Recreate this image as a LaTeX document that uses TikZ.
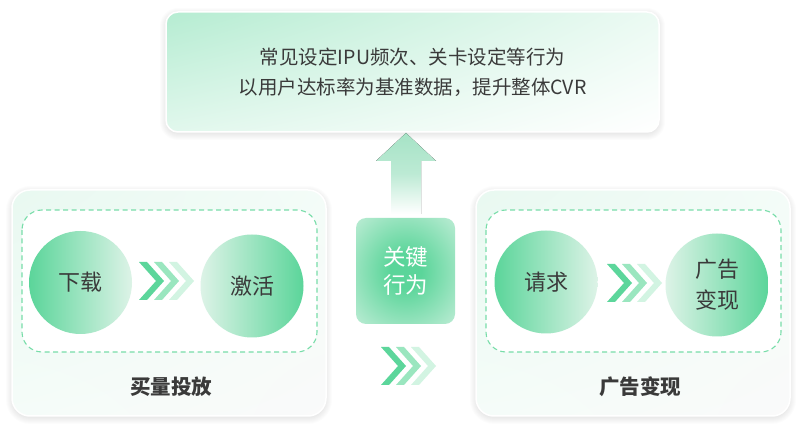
\documentclass[tikz,border=0pt]{standalone}
\usepackage{fontspec}
\setmainfont{Noto Sans CJK SC}
\usetikzlibrary{shadings}
\definecolor{txt}{HTML}{3A3A3A}
\definecolor{gdark}{HTML}{5BD59A}
\definecolor{glight}{HTML}{DDF3E7}
\definecolor{dashc}{HTML}{78DDA9}
\definecolor{chA}{HTML}{5CD69B}
\definecolor{chB}{HTML}{9AE6BF}
\definecolor{chC}{HTML}{D2F4E2}
\definecolor{arrowc}{HTML}{A6E3C6}
\definecolor{keyout}{HTML}{C4EED9}
\definecolor{keycorner}{HTML}{D8F5E6}
\pgfdeclareradialshading{keyshade}{\pgfpoint{0bp}{0bp}}{color(0bp)=(gdark); color(8bp)=(gdark); color(38bp)=(keyout); color(52bp)=(keycorner); color(75bp)=(keycorner)}
\newcommand\myshadow[5]{\foreach \s in {0,...,6}{\pgfmathsetmacro\rr{#5+\s}\fill[black,opacity=0.010,rounded corners=\rr pt] ({#1-\s},{#2-\s+2}) rectangle ({#3+\s},{#4+\s+2});}}
\tikzset{
  x=1pt,y=-1pt,
  panel/.style={draw=white,line width=1.5pt,rounded corners=18pt,
    upper left=white!88!gdark!80!glight, upper right=white!93!gdark,
    lower left=white!94!gdark, lower right=white!96!gray},
  dashbox/.style={draw=dashc,line width=1.1pt,dash pattern=on 5pt off 3.5pt,rounded corners=20pt,fill=white},
  ball/.style={circle,minimum size=103pt,inner sep=0pt,text=txt,font=\fontsize{22}{31}\selectfont,align=center},
  balll/.style={ball,left color=gdark,right color=glight},
  ballr/.style={ball,left color=glight,right color=gdark},
  caption/.style={text=txt,font=\fontsize{20.5}{24}\selectfont\bfseries},
  chev/.pic={
    \fill[chC] (30,-19) -- (38,-19) -- (55,0) -- (38,19) -- (30,19) -- (47,0) -- cycle;
    \fill[chB] (15,-19) -- (23,-19) -- (40,0) -- (23,19) -- (15,19) -- (32,0) -- cycle;
    \fill[chA] (0,-19) -- (8,-19) -- (25,0) -- (8,19) -- (0,19) -- (17,0) -- cycle;
  }
}
\begin{document}
\begin{tikzpicture}
\useasboundingbox (0,0) rectangle (801,443);
\fill[white] (0,0) rectangle (801,443);

% top box
\myshadow{166}{12}{659}{132}{12}
\node[draw=white,line width=1.5pt,rounded corners=12pt,minimum width=493pt,minimum height=120pt,
  upper left=gdark!45!white, upper right=gdark!12!white, lower left=gdark!18!white, lower right=white,
  text=txt,align=center,font=\fontsize{19.5}{30}\selectfont] (top) at (412.5,72)
  {常见设定IPU频次、关卡设定等行为\\以用户达标率为基准数据，提升整体CVR};

% up arrow
\fill[top color=arrowc,bottom color=white,middle color=arrowc!75!white]
  (406,133) -- (436,161) -- (421,161) -- (421,214) -- (391,214) -- (391,161) -- (376,161) -- cycle;

% left panel
\myshadow{12}{190}{326}{416}{18}
\path[panel] (12,190) rectangle (326,416);
\path[dashbox] (22,210) rectangle (317,352);
\node[balll] (dl) at (80.5,282.5) {下载};
\node[ballr] (jh) at (252,286) {激活};
\pic at (139,281) {chev};
\node[caption] (mltf) at (171,387) {买量投放};

% right panel
\myshadow{476}{190}{790}{416}{18}
\path[panel] (476,190) rectangle (790,416);
\path[dashbox] (486,210) rectangle (781,352);
\node[balll] (qq) at (546,282) {请求};
\node[ballr] (ggbx) at (717,285) {广告\\变现};
\pic at (607,283) {chev};
\node[caption] (ggbxl) at (640,387) {广告变现};

% middle key box
\node[rounded corners=10pt,minimum width=99pt,minimum height=106pt,
  shading=keyshade,text=white,align=center,
  font=\fontsize{22.5}{28}\selectfont] (key) at (405.5,271) {关键\\行为};
\pic at (381,366) {chev};
\end{tikzpicture}
\end{document}
